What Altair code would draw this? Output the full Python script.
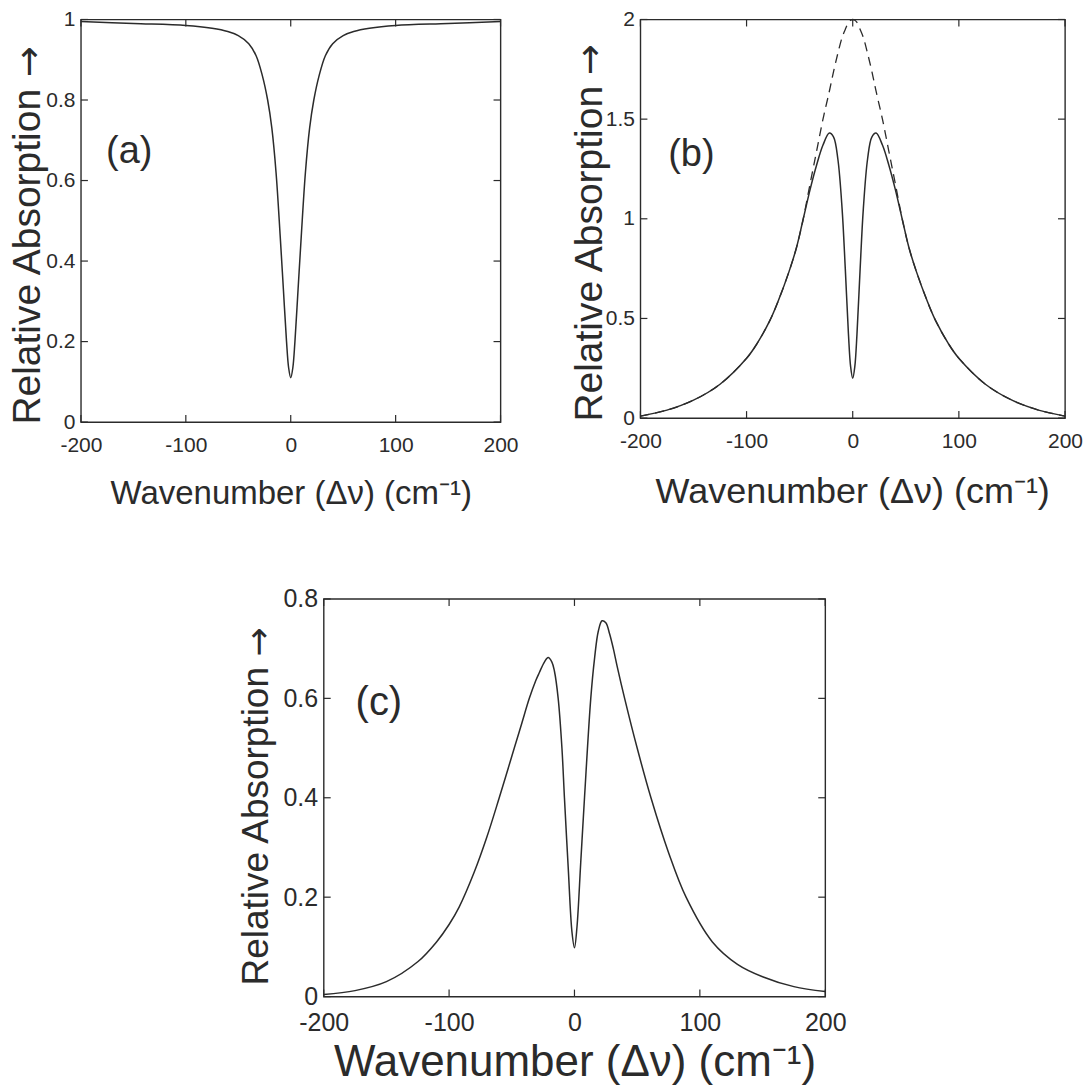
import altair as alt
import pandas as pd

FONT = "Liberation Sans"
ARROW_FONT = "DejaVu Sans"
INK = "#2b2b2b"

# ---------------- data ----------------
x_ticks = [-200, -100, 0, 100, 200]

# panel (a)
xa = [-200, -150, -100, -75, -60, -50, -40, -33, -27, -22, -18, -14, -10, -7, -4, -2, 0,
      2, 4, 7, 10, 14, 18, 22, 27, 33, 40, 50, 60, 75, 100, 150, 200]
ya = [0.995, 0.99, 0.985, 0.978, 0.97, 0.96, 0.94, 0.91, 0.86, 0.80, 0.73, 0.62, 0.46, 0.33, 0.20, 0.135, 0.11,
      0.135, 0.20, 0.33, 0.46, 0.62, 0.73, 0.80, 0.86, 0.91, 0.94, 0.96, 0.97, 0.978, 0.985, 0.99, 0.995]
ya_ticks = [0, 0.2, 0.4, 0.6, 0.8, 1]

# panel (b)
xb = [-200, -175, -150, -125, -100, -90, -78, -70, -60, -53, -47, -40, -34, -28, -22, -18, -14, -10, -7, -4, -2, 0,
      2, 4, 7, 10, 14, 18, 22, 28, 34, 40, 47, 53, 60, 70, 78, 90, 100, 125, 150, 175, 200]
yb_solid = [0.01, 0.04, 0.09, 0.17, 0.30, 0.375, 0.49, 0.59, 0.735, 0.855, 0.99, 1.15, 1.27, 1.37, 1.43, 1.41, 1.30, 1.05, 0.75, 0.42, 0.26, 0.20,
            0.26, 0.42, 0.75, 1.05, 1.30, 1.41, 1.43, 1.37, 1.27, 1.15, 0.99, 0.855, 0.735, 0.59, 0.49, 0.375, 0.30, 0.17, 0.09, 0.04, 0.01]
yb_dashed = [0.01, 0.04, 0.09, 0.17, 0.30, 0.375, 0.49, 0.59, 0.735, 0.855, 0.99, 1.18, 1.34, 1.50, 1.64, 1.74, 1.83, 1.91, 1.95, 1.985, 1.996, 2.0,
             1.996, 1.985, 1.95, 1.91, 1.83, 1.74, 1.64, 1.50, 1.34, 1.18, 0.99, 0.855, 0.735, 0.59, 0.49, 0.375, 0.30, 0.17, 0.09, 0.04, 0.01]
yb_ticks = [0, 0.5, 1, 1.5, 2]

# panel (c)
xc = [-200, -175, -150, -125, -110, -100, -92, -80, -70, -60, -48, -42, -36, -31, -28, -24, -21, -18, -16, -13, -10, -8, -5, -2, 0,
      2, 5, 8, 13, 16, 19, 22, 25, 28, 31, 34, 40, 50, 61, 75, 89, 110, 130, 150, 175, 200]
yc = [0.004, 0.012, 0.03, 0.07, 0.11, 0.145, 0.18, 0.25, 0.32, 0.4, 0.5, 0.55, 0.6, 0.635, 0.652, 0.673, 0.682, 0.673, 0.655, 0.6, 0.5, 0.4, 0.26, 0.13, 0.098,
      0.14, 0.27, 0.4, 0.6, 0.68, 0.735, 0.756, 0.752, 0.73, 0.70, 0.665, 0.6, 0.5, 0.4, 0.29, 0.2, 0.11, 0.065, 0.04, 0.02, 0.01]
yc_ticks = [0, 0.2, 0.4, 0.6, 0.8]

# panel tags (text, x, y in data units)
tag_text = ["(a)", "(b)", "(c)"]
tag_x = [-154, -152, -156]
tag_y = [0.67, 1.32, 0.59]

XTITLE = "Wavenumber (Δν) (cm⁻¹)"
YTITLE = "Relative Absorption"
ARROW = "→"


def panel(lines, ymax, yticks, W, H, tick_fs, ytitle_fs, xtitle_fs,
          ytx, yty, arrow_y, xtx, xty, tag_i, tag_fs, xlab_pad):
    xs = alt.Scale(domain=[-200, 200], nice=False, zero=False)
    ys = alt.Scale(domain=[0, ymax], nice=False, zero=False)
    xaxis = alt.Axis(values=x_ticks, title=XTITLE, labelExpr="'' + datum.value",
                     labelFlush=False, labelFontSize=tick_fs, labelPadding=xlab_pad,
                     titleFontSize=xtitle_fs, titleX=xtx, titleY=xty,
                     titleAlign="center", titleBaseline="middle")
    yaxis = alt.Axis(values=yticks, title=YTITLE, labelExpr="'' + datum.value",
                     labelFlush=False, labelFontSize=tick_fs, labelPadding=6,
                     titleFontSize=ytitle_fs, titleX=ytx, titleY=yty,
                     titleAlign="center", titleBaseline="middle", titleAngle=270)
    X = lambda f: alt.X(f, scale=xs, axis=xaxis)
    Y = lambda f: alt.Y(f, scale=ys, axis=yaxis)
    layers = []
    for df, dashed in lines:
        kw = dict(color=INK, strokeWidth=1.5, interpolate="catmull-rom")
        if dashed:
            kw["strokeDash"] = [9, 6]
            kw["strokeWidth"] = 1.3
        layers.append(alt.Chart(df).mark_line(**kw).encode(x=X("x:Q"), y=Y("y:Q")))

    tx = pd.DataFrame({"t": x_ticks})
    ty = pd.DataFrame({"t": yticks})
    L = 7
    rk = dict(color=INK, strokeWidth=1.2)
    layers.append(alt.Chart(tx).mark_rule(**rk).encode(
        x=X("t:Q"), y=alt.value(H), y2=alt.value(H - L)))
    layers.append(alt.Chart(tx).mark_rule(**rk).encode(
        x=X("t:Q"), y=alt.value(0), y2=alt.value(L)))
    layers.append(alt.Chart(ty).mark_rule(**rk).encode(
        y=Y("t:Q"), x=alt.value(0), x2=alt.value(L)))
    layers.append(alt.Chart(ty).mark_rule(**rk).encode(
        y=Y("t:Q"), x=alt.value(W), x2=alt.value(W - L)))

    tag = pd.DataFrame({"x": [tag_x[tag_i]], "y": [tag_y[tag_i]], "t": [tag_text[tag_i]]})
    layers.append(alt.Chart(tag).mark_text(font=FONT, fontSize=tag_fs, color=INK,
                                           align="center", baseline="middle").encode(
        x=X("x:Q"), y=Y("y:Q"), text="t:N"))

    # the arrow that ends the y-axis title
    arr = pd.DataFrame({"t": [ARROW]})
    layers.append(alt.Chart(arr).mark_text(font=ARROW_FONT, fontSize=ytitle_fs - 2, color=INK,
                                           angle=270, align="center", baseline="middle").encode(
        x=alt.value(ytx + 2), y=alt.value(arrow_y), text="t:N"))

    return alt.layer(*layers).properties(width=W, height=H)


pa = panel([(pd.DataFrame({"x": xa, "y": ya}), False)], 1, ya_ticks,
           420, 403, 21, 39, 33, -53, 237, 42, 210, 71, 0, 38, 12)
pb = panel([(pd.DataFrame({"x": xb, "y": yb_solid}), False),
            (pd.DataFrame({"x": xb, "y": yb_dashed}), True)], 2, yb_ticks,
           425, 399, 21, 39, 36, -51, 234, 40, 212, 73, 1, 38, 12)
pc = panel([(pd.DataFrame({"x": xc, "y": yc}), False)], 0.8, yc_ticks,
           502, 398, 25, 37, 44, -67, 227, 43, 251, 66, 2, 40, 14)

spacer = alt.Chart(pd.DataFrame({"t": [0]})).mark_point(opacity=0).encode(
    x=alt.X("t:Q", axis=None), y=alt.Y("t:Q", axis=None)
).properties(width=156, height=10, view=alt.ViewBackground(strokeOpacity=0))

top = alt.hconcat(pa, pb, spacing=50)
bottom = alt.hconcat(spacer, pc, spacing=0)
chart = alt.vconcat(top, bottom, spacing=75).configure_view(
    stroke=INK, strokeWidth=1.4
).configure_axis(
    grid=False, ticks=False, domain=False,
    labelFont=FONT, titleFont=FONT, labelColor=INK, titleColor=INK,
    titleFontWeight="normal"
).properties(background="white", padding={"left": 8, "top": 7, "right": 0, "bottom": 0})

chart.save("out.html", embed_options={"renderer": "svg", "actions": False})
